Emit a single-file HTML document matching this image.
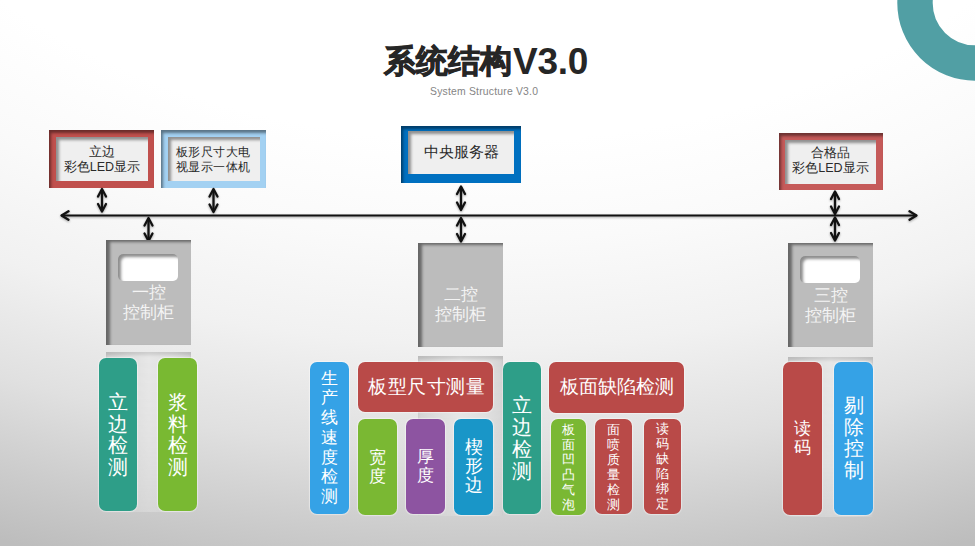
<!DOCTYPE html>
<html><head><meta charset="utf-8">
<style>
html,body{margin:0;padding:0;}
body{width:975px;height:546px;overflow:hidden;position:relative;font-family:"Liberation Sans",sans-serif;
background:radial-gradient(ellipse 1350px 900px at 487px -300px,#ffffff 49%,#fafafa 60%,#f1f1f1 71.7%,#e0e0e0 83.3%,#cdcdcd 92.2%,#bdbdbd 100%);}
.a{position:absolute;}
.frame{position:absolute;box-shadow:inset 2px 3px 3px rgba(0,0,0,0.45);}
.inner{position:absolute;background:#efefef;box-shadow:inset 3px 3px 3px rgba(0,0,0,0.4);color:#2a2a2a;text-align:center;}
.cab{position:absolute;background:#bcbcbc;box-shadow:inset 4px 2px 3px rgba(0,0,0,0.45);color:#f4f4f4;text-align:center;}
.scr{position:absolute;background:#ffffff;border-radius:5px;box-shadow:inset 3px 3px 3px rgba(0,0,0,0.45);}
.base{position:absolute;background:linear-gradient(90deg,#cfcfcf 0%,#dcdcdc 25%,#e6e6e6 50%,#dedede 80%,#d2d2d2 100%);box-shadow:inset 0 3px 3px rgba(0,0,0,0.1);-webkit-mask-image:linear-gradient(180deg,#000 0%,rgba(0,0,0,0.75) 45%,rgba(0,0,0,0.45) 100%);}
.blk{position:absolute;border-radius:7px;color:#fff;text-align:center;box-shadow:0 0 1px 1px rgba(255,255,255,0.45);}
.v{position:absolute;left:0;right:0;}
</style></head><body>

<!-- ring top right -->
<svg class="a" style="left:0;top:0" width="975" height="546">
  <circle cx="975" cy="3" r="60" fill="none" stroke="#519fa4" stroke-width="35.4"/>
</svg>

<!-- title -->
<div class="a" style="left:384px;top:38px;white-space:nowrap;font-size:32px;line-height:44px;font-weight:bold;color:#262626;"><span style="-webkit-text-stroke:0.9px #262626">系统结构</span><span style="font-size:37px;letter-spacing:-0.3px;margin-left:1px;position:relative;top:1.5px">V3.0</span></div>
<div class="a" style="left:430px;top:86px;white-space:nowrap;font-size:10.4px;line-height:12px;letter-spacing:0.2px;color:#858585;">System Structure V3.0</div>

<!-- top boxes -->
<div class="frame" style="left:49px;top:130px;width:105px;height:58px;background:#c0504d;"></div>
<div class="inner" style="left:56px;top:137px;width:92px;height:44px;font-size:12.5px;line-height:15px;"><div style="padding-top:8px">立边<br>彩色LED显示</div></div>

<div class="frame" style="left:161px;top:130px;width:105px;height:58px;background:#a3d1f2;"></div>
<div class="inner" style="left:168px;top:137px;width:92px;height:44px;font-size:12px;letter-spacing:0.5px;line-height:14.5px;"><div style="padding-top:8px;padding-right:2px">板形尺寸大电<br>视显示一体机</div></div>

<div class="frame" style="left:401px;top:126px;width:120px;height:57px;background:#0070c0;"></div>
<div class="inner" style="left:408px;top:131px;width:106px;height:43px;font-size:14.5px;line-height:18px;"><div style="padding-top:12px">中央服务器</div></div>

<div class="frame" style="left:779px;top:133px;width:104px;height:57px;background:#c55a59;"></div>
<div class="inner" style="left:785px;top:140px;width:91px;height:44px;font-size:12.5px;line-height:15px;"><div style="padding-top:6px">合格品<br>彩色LED显示</div></div>

<!-- lines & arrows -->
<svg class="a" style="left:0;top:0" width="975" height="546">
<g stroke="#111" stroke-width="2.3" fill="none" stroke-linecap="round" stroke-linejoin="round" style="filter:drop-shadow(0.5px 1px 1px rgba(0,0,0,0.35))">
<line x1="62" y1="215.5" x2="916" y2="215.5" stroke-width="2.0"/>
<polyline points="68.5,211.3 61.5,215.5 68.5,219.7"/>
<polyline points="909.5,211.3 916.5,215.5 909.5,219.7"/>
<line x1="102" y1="190" x2="102" y2="210.5"/><polyline points="98.0,196.5 102,189 106.0,196.5"/><polyline points="98.0,204.0 102,211.5 106.0,204.0"/>
<line x1="213.5" y1="190" x2="213.5" y2="211"/><polyline points="209.5,196.5 213.5,189 217.5,196.5"/><polyline points="209.5,204.5 213.5,212 217.5,204.5"/>
<line x1="148.5" y1="219" x2="148.5" y2="240"/><polyline points="144.5,225.5 148.5,218 152.5,225.5"/><polyline points="144.5,233.5 148.5,241 152.5,233.5"/>
<line x1="461" y1="187.5" x2="461" y2="209"/><polyline points="457.0,194.0 461,186.5 465.0,194.0"/><polyline points="457.0,202.5 461,210 465.0,202.5"/>
<line x1="461" y1="219" x2="461" y2="240.5"/><polyline points="457.0,225.5 461,218 465.0,225.5"/><polyline points="457.0,234.0 461,241.5 465.0,234.0"/>
<line x1="835" y1="192.5" x2="835" y2="213"/><polyline points="831.0,199.0 835,191.5 839.0,199.0"/><polyline points="831.0,206.5 835,214 839.0,206.5"/>
<line x1="835" y1="218.5" x2="835" y2="239.5"/><polyline points="831.0,225.0 835,217.5 839.0,225.0"/><polyline points="831.0,233.0 835,240.5 839.0,233.0"/>
</g>
</svg>

<!-- cabinets -->
<div class="base" style="left:106px;top:352px;width:85px;height:160px;"></div>
<div class="cab" style="left:106px;top:240px;width:85px;height:105px;">
  <div class="scr" style="left:12px;top:14px;width:60px;height:27px;"></div>
  <div class="v" style="top:42px;font-size:16.5px;line-height:20px;">一控<br>控制柜</div>
</div>

<div class="base" style="left:418px;top:356px;width:85px;height:160px;"></div>
<div class="cab" style="left:418px;top:243px;width:85px;height:104px;">
  <div class="v" style="top:41px;font-size:16.5px;line-height:20px;">二控<br>控制柜</div>
</div>

<div class="base" style="left:788px;top:356.8px;width:85px;height:160px;"></div>
<div class="cab" style="left:788px;top:243px;width:85px;height:104px;">
  <div class="scr" style="left:12px;top:13px;width:60px;height:27px;"></div>
  <div class="v" style="top:42px;font-size:16.5px;line-height:20px;">三控<br>控制柜</div>
</div>

<!-- blocks left -->
<div class="blk" style="left:99px;top:358px;width:38px;height:153px;background:#2e9e88;">
  <div class="v" style="top:34px;font-size:20px;line-height:21.5px;">立<br>边<br>检<br>测</div></div>
<div class="blk" style="left:158px;top:358px;width:39px;height:153px;background:#79b932;">
  <div class="v" style="top:34px;font-size:20px;line-height:21.5px;">浆<br>料<br>检<br>测</div></div>

<!-- blocks middle -->
<div class="blk" style="left:310px;top:362px;width:39px;height:152px;background:#35a2e6;">
  <div class="v" style="top:6.5px;font-size:17px;line-height:19.8px;">生<br>产<br>线<br>速<br>度<br>检<br>测</div></div>
<div class="blk" style="left:358px;top:362px;width:135px;height:50px;background:#b94a48;">
  <div class="v" style="top:14px;font-size:19px;letter-spacing:0.5px;padding-left:2px;line-height:22px;">板型尺寸测量</div></div>
<div class="blk" style="left:358px;top:419px;width:39px;height:96px;background:#7ab833;">
  <div class="v" style="top:28.5px;font-size:17px;line-height:19.3px;">宽<br>度</div></div>
<div class="blk" style="left:406px;top:419px;width:39px;height:95px;background:#8d54a1;">
  <div class="v" style="top:28px;font-size:17px;line-height:19.3px;">厚<br>度</div></div>
<div class="blk" style="left:454px;top:419px;width:39px;height:96px;background:#1996c8;">
  <div class="v" style="top:18.5px;font-size:17.5px;line-height:19.3px;">楔<br>形<br>边</div></div>

<div class="blk" style="left:503px;top:362px;width:38px;height:152px;background:#2e9e88;">
  <div class="v" style="top:32px;font-size:20px;line-height:22px;">立<br>边<br>检<br>测</div></div>
<div class="blk" style="left:549px;top:362px;width:135px;height:51px;background:#b94a48;">
  <div class="v" style="top:14px;font-size:19px;line-height:22px;">板面缺陷检测</div></div>
<div class="blk" style="left:551px;top:419px;width:35px;height:96px;background:#7ab833;">
  <div class="v" style="top:4px;font-size:13px;line-height:14.9px;">板<br>面<br>凹<br>凸<br>气<br>泡</div></div>
<div class="blk" style="left:595px;top:419px;width:37px;height:95px;background:#b94a48;">
  <div class="v" style="top:4px;font-size:13px;line-height:14.9px;">面<br>喷<br>质<br>量<br>检<br>测</div></div>
<div class="blk" style="left:644px;top:419px;width:37px;height:95px;background:#b94a48;">
  <div class="v" style="top:3px;font-size:13px;line-height:14.9px;">读<br>码<br>缺<br>陷<br>绑<br>定</div></div>

<!-- blocks right -->
<div class="blk" style="left:783px;top:362px;width:39px;height:153px;background:#b94a48;">
  <div class="v" style="top:58px;font-size:17px;line-height:18.5px;">读<br>码</div></div>
<div class="blk" style="left:834px;top:362px;width:39px;height:153px;background:#35a2e6;">
  <div class="v" style="top:33px;font-size:19.5px;line-height:21.5px;">剔<br>除<br>控<br>制</div></div>

</body></html>
